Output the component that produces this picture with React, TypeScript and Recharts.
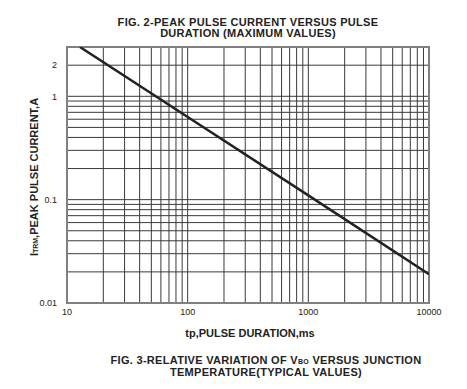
import React from 'react';
import { LineChart, Line, XAxis, YAxis, CartesianGrid, ReferenceArea } from 'recharts';

// pulse duration (ms) vs peak pulse current (A)
const durations = [12.8, 100, 1000, 10000];
const currents = [3, 0.63, 0.11, 0.019];

const xTicks = [
  10, 20, 30, 40, 50, 60, 70, 80, 90,
  100, 200, 300, 400, 500, 600, 700, 800, 900,
  1000, 2000, 3000, 4000, 5000, 6000, 7000, 8000, 9000, 10000,
];
const xLabels = [10, 100, 1000, 10000];

const yTicks = [
  0.01, 0.02, 0.03, 0.04, 0.05, 0.06, 0.07, 0.08, 0.09,
  0.1, 0.2, 0.3, 0.4, 0.5, 0.6, 0.7, 0.8, 0.9,
  1, 2, 3,
];
const yLabels = [0.01, 0.1, 1, 2];

const data = durations.map((t, i) => ({ t, i: currents[i] }));

const FONT = '"Liberation Sans", Arial, sans-serif';

const boldText: React.CSSProperties = {
  position: 'absolute',
  fontFamily: FONT,
  fontWeight: 700,
  fontSize: 11,
  color: '#222',
  lineHeight: '11px',
  textAlign: 'center',
  whiteSpace: 'nowrap',
};

export default function App() {
  return (
    <div style={{ position: 'absolute', left: 0, top: 0, width: 467, height: 389, background: '#fff' }}>
      <div style={{ ...boldText, left: 48, width: 400, top: 17, letterSpacing: 0.3 }}>
        FIG. 2-PEAK PULSE CURRENT VERSUS PULSE
        <br />
        DURATION (MAXIMUM VALUES)
      </div>

      <LineChart
        width={467}
        height={389}
        data={data}
        margin={{ top: 47, right: 38, left: 7, bottom: 66 }}
      >
        <CartesianGrid stroke="#3a3a3a" strokeWidth={1} />
        <XAxis
          dataKey="t"
          type="number"
          scale="log"
          domain={[10, 10000]}
          ticks={xTicks}
          allowDataOverflow
          axisLine={false}
          tickLine={false}
          tickSize={0}
          tickMargin={6}
          height={20}
          interval={0}
          tick={{ fill: '#222', fontSize: 9, fontFamily: FONT }}
          tickFormatter={(v: number) => (xLabels.includes(v) ? String(v) : '')}
        />
        <YAxis
          type="number"
          scale="log"
          domain={[0.01, 3]}
          ticks={yTicks}
          allowDataOverflow
          axisLine={false}
          tickLine={false}
          tickSize={0}
          tickMargin={10}
          width={60}
          interval={0}
          tick={{ fill: '#222', fontSize: 9, fontFamily: FONT }}
          tickFormatter={(v: number) => (yLabels.includes(v) ? String(v) : '')}
        />
        <ReferenceArea
          x1={10}
          x2={10000}
          y1={0.01}
          y2={3}
          fill="none"
          stroke="#808080"
          strokeWidth={2}
          ifOverflow="visible"
        />
        <Line
          dataKey="i"
          type="linear"
          stroke="#222"
          strokeWidth={2.5}
          dot={false}
          isAnimationActive={false}
        />
      </LineChart>

      <div
        style={{
          ...boldText,
          left: 35 - 120,
          top: 177 - 6,
          width: 240,
          transform: 'rotate(-90deg)',
        }}
      >
        I<span style={{ fontSize: 7 }}>TRM</span>,PEAK PULSE CURRENT,A
      </div>

      <div style={{ ...boldText, left: 50, width: 400, top: 328 }}>tp,PULSE DURATION,ms</div>

      <div style={{ ...boldText, left: 66, width: 400, top: 355, letterSpacing: 0.3 }}>
        FIG. 3-RELATIVE VARIATION OF V<span style={{ fontSize: 7 }}>BO</span> VERSUS JUNCTION
        <br />
        TEMPERATURE(TYPICAL VALUES)
      </div>
    </div>
  );
}
